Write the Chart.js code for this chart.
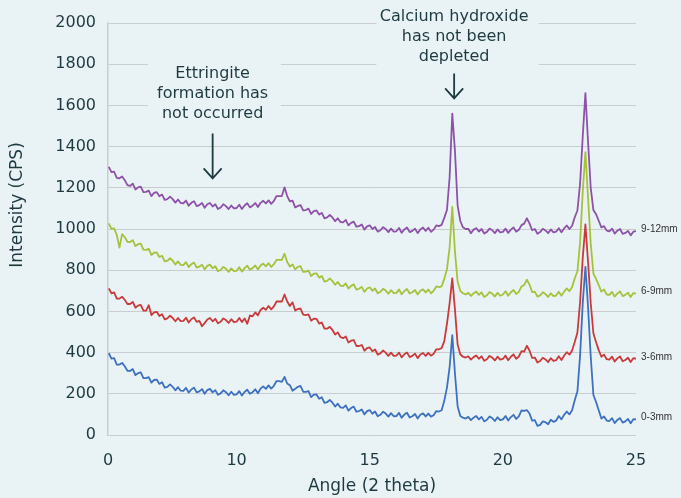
<!DOCTYPE html>
<html>
<head>
<meta charset="utf-8">
<script src="https://cdn.jsdelivr.net/npm/chart.js@4.4.1/dist/chart.umd.min.js"></script>
<style>
  html, body { margin: 0; padding: 0; background: #e9f2f5; }
  #wrap { width: 681px; height: 498px; }
</style>
</head>
<body>
<div id="wrap"><canvas id="xrd" width="681" height="498"></canvas></div>
<script>
// sampling grid of the scans: 5.2 .. 25.0 deg, every 0.1
const angles = [];
for (let i = 52; i <= 250; i++) angles.push(i / 10);

const depthLabels = ['9-12mm', '6-9mm', '3-6mm', '0-3mm'];

// one row per degree (first row 5.2-5.9, last value 25.0)
const depth9to12 = [
  1302, 1276, 1278, 1248, 1246, 1255, 1237, 1213,
  1209, 1220, 1192, 1202, 1206, 1179, 1180, 1186, 1160, 1175,
  1179, 1159, 1167, 1141, 1145, 1157, 1145, 1128, 1143, 1126,
  1125, 1138, 1113, 1127, 1135, 1111, 1116, 1126, 1103, 1120,
  1126, 1109, 1120, 1097, 1104, 1120, 1111, 1097, 1114, 1100,
  1102, 1118, 1097, 1114, 1125, 1105, 1113, 1126, 1107, 1127,
  1137, 1124, 1139, 1122, 1136, 1160, 1160, 1160, 1202, 1160,
  1134, 1138, 1105, 1112, 1116, 1090, 1092, 1099, 1073, 1087,
  1090, 1070, 1078, 1052, 1056, 1068, 1056, 1038, 1052, 1034,
  1032, 1044, 1018, 1030, 1036, 1011, 1014, 1022, 997, 1013,
  1018, 1000, 1010, 987, 994, 1009, 1000, 985, 1002, 987,
  989, 1005, 982, 998, 1007, 985, 991, 1002, 980, 998,
  1007, 991, 1006, 986, 997, 1017, 1014, 1020, 1054, 1092,
  1250, 1560, 1380, 1115, 1040, 1008, 1000, 1001, 979, 997,
  1004, 988, 1000, 978, 986, 1002, 994, 980, 998, 984,
  986, 1002, 981, 997, 1008, 987, 996, 1019, 1026, 1052,
  1027, 994, 1000, 977, 985, 1001, 993, 980, 998, 984,
  987, 1004, 984, 1003, 1017, 1000, 1016, 1057, 1090, 1220,
  1450, 1660, 1420, 1200, 1092, 1072, 1040, 1008, 1014, 992,
  989, 1002, 978, 992, 1000, 976, 981, 991, 969, 987,
  990
];

const depth6to9 = [
  1027, 1001, 1003, 971, 910, 975, 960, 938,
  937, 946, 917, 926, 929, 900, 899, 903, 874, 885,
  886, 864, 870, 843, 846, 858, 846, 828, 843, 826,
  825, 839, 815, 829, 837, 813, 817, 827, 804, 821,
  827, 809, 819, 795, 801, 816, 807, 792, 809, 795,
  797, 814, 793, 810, 822, 802, 810, 823, 803, 823,
  832, 819, 834, 816, 829, 850, 850, 850, 880, 840,
  818, 828, 804, 816, 820, 792, 793, 798, 771, 783,
  785, 764, 772, 745, 748, 760, 747, 729, 743, 725,
  723, 736, 711, 724, 731, 706, 710, 719, 695, 711,
  717, 700, 711, 688, 695, 710, 701, 686, 703, 689,
  690, 706, 683, 699, 709, 687, 693, 704, 682, 700,
  707, 692, 706, 688, 700, 721, 718, 722, 758, 805,
  910, 1107, 890, 745, 700, 688, 682, 690, 675, 688,
  696, 680, 692, 670, 678, 694, 686, 672, 690, 676,
  682, 698, 676, 693, 704, 684, 695, 721, 728, 754,
  730, 694, 696, 672, 678, 693, 684, 670, 688, 674,
  677, 695, 676, 696, 712, 698, 718, 761, 795, 935,
  1180, 1373, 1150, 930, 784, 758, 728, 696, 706, 682,
  680, 695, 672, 687, 697, 674, 680, 691, 670, 689,
  686
];

const depth3to6 = [
  712, 688, 692, 662, 662, 671, 656, 636,
  636, 646, 618, 628, 632, 604, 604, 630, 582, 595,
  598, 578, 586, 561, 566, 579, 568, 552, 568, 553,
  554, 569, 546, 562, 571, 549, 554, 528, 543, 561,
  568, 552, 564, 542, 550, 566, 558, 544, 562, 548,
  550, 568, 548, 566, 540, 580, 576, 595, 581, 607,
  618, 608, 626, 610, 624, 648, 648, 648, 682, 648,
  626, 644, 604, 612, 614, 584, 582, 585, 555, 565,
  564, 541, 546, 516, 516, 525, 510, 488, 498, 476,
  470, 478, 449, 458, 461, 432, 432, 437, 409, 422,
  425, 406, 415, 390, 396, 410, 400, 384, 400, 384,
  385, 400, 377, 392, 401, 378, 384, 395, 373, 391,
  398, 384, 399, 385, 394, 416, 416, 422, 456, 540,
  640, 760, 610, 440, 392, 380, 376, 382, 366, 378,
  386, 370, 382, 360, 368, 384, 376, 362, 380, 366,
  369, 385, 363, 380, 391, 370, 381, 407, 405, 433,
  410, 374, 376, 352, 359, 375, 367, 354, 373, 360,
  363, 382, 364, 385, 402, 390, 410, 451, 497, 645,
  860, 1022, 840, 640, 494, 450, 412, 380, 390, 368,
  366, 380, 357, 372, 381, 358, 364, 375, 354, 373,
  370
];

const depth0to3 = [
  397, 371, 373, 342, 342, 350, 334, 312,
  311, 320, 291, 300, 304, 276, 276, 281, 254, 267,
  269, 248, 256, 230, 234, 246, 234, 217, 232, 215,
  214, 229, 206, 221, 230, 207, 212, 223, 200, 218,
  224, 207, 218, 195, 202, 217, 208, 193, 210, 195,
  197, 213, 192, 209, 220, 200, 208, 222, 203, 225,
  236, 224, 241, 225, 239, 262, 262, 258, 282, 250,
  242, 215, 224, 234, 238, 210, 209, 213, 184, 196,
  197, 176, 183, 156, 159, 170, 157, 138, 152, 134,
  132, 144, 118, 131, 138, 113, 116, 124, 100, 116,
  121, 103, 114, 91, 98, 113, 104, 89, 106, 91,
  92, 107, 84, 99, 108, 85, 91, 102, 80, 98,
  105, 90, 104, 89, 96, 116, 114, 120, 166, 230,
  330, 485, 300, 140, 92, 84, 80, 88, 72, 84,
  92, 76, 88, 66, 74, 90, 82, 68, 86, 72,
  76, 92, 70, 87, 98, 78, 90, 119, 117, 121,
  104, 70, 72, 44, 49, 66, 62, 52, 74, 64,
  70, 92, 76, 98, 114, 100, 120, 169, 212, 385,
  640, 816, 620, 380, 194, 160, 120, 80, 90, 70,
  68, 82, 58, 73, 82, 60, 66, 78, 57, 77,
  76
];

const yTicks = { min: 0, max: 2000, step: 200 };
const xTickValues = [5.17, 10, 15, 20, 25];
const xTickLabels = ['0', '10', '15', '20', '25'];

const seriesColors = ['#8d52a8', '#a6c23b', '#c93a3b', '#3d71bf'];
const inkColor = '#1d3a40';
const gridColor = '#c9cdcd';
const bgColor = '#e9f2f5';

function toPoints(values) {
  return values.map((v, i) => ({ x: angles[i], y: v }));
}

// text callouts, anchored at an angle / intensity
const callouts = [
  { angle: 9.1, top: 1753, lines: ['Ettringite', 'formation has', 'not occurred'],
    arrow: [1464, 1246], cover: [6.66, 11.66, 1870, 1510] },
  { angle: 18.17, top: 2028, lines: ['Calcium hydroxide', 'has not been', 'depleted'],
    arrow: [1755, 1634], cover: [15.25, 21.35, 2090, 1750] }
];

const calloutPlugin = {
  id: 'callouts',
  beforeDatasetsDraw(chart) {
    const { ctx, scales: { x, y } } = chart;
    ctx.save();
    ctx.fillStyle = bgColor;
    callouts.forEach(c => {
      const [a0, a1, v0, v1] = c.cover;
      ctx.fillRect(x.getPixelForValue(a0), y.getPixelForValue(v0),
        x.getPixelForValue(a1) - x.getPixelForValue(a0),
        y.getPixelForValue(v1) - y.getPixelForValue(v0));
    });
    ctx.restore();
  },
  afterDraw(chart) {
    const { ctx, scales: { x, y } } = chart;
    ctx.save();
    ctx.fillStyle = inkColor;
    ctx.strokeStyle = inkColor;
    ctx.font = '16px "DejaVu Sans"';
    ctx.textAlign = 'center';
    ctx.textBaseline = 'middle';
    callouts.forEach(c => {
      const px = x.getPixelForValue(c.angle);
      const py = y.getPixelForValue(c.top);
      c.lines.forEach((t, i) => ctx.fillText(t, px, py + i * 20));
      const y0 = y.getPixelForValue(c.arrow[0]);
      const y1 = y.getPixelForValue(c.arrow[1]);
      ctx.lineWidth = 1.8;
      ctx.beginPath();
      ctx.moveTo(px, y0);
      ctx.lineTo(px, y1);
      ctx.moveTo(px - 9, y1 - 10);
      ctx.lineTo(px, y1);
      ctx.lineTo(px + 9, y1 - 10);
      ctx.stroke();
    });

    // y axis title
    ctx.font = '17px "DejaVu Sans"';
    ctx.translate(18, 205);
    ctx.rotate(-Math.PI / 2);
    ctx.fillText('Intensity (CPS)', 0, 0);
    ctx.restore();
  },
  afterDatasetsDraw(chart) {
    const { ctx } = chart;
    ctx.save();
    ctx.fillStyle = '#333333';
    ctx.font = '10px "Liberation Sans"';
    ctx.textAlign = 'left';
    ctx.textBaseline = 'middle';
    chart.data.datasets.forEach((ds, i) => {
      const pts = chart.getDatasetMeta(i).data;
      const last = pts[pts.length - 1];
      ctx.fillText(ds.label, last.x + 5, last.y - 2);
    });
    ctx.restore();
  }
};

const allSeries = [depth9to12, depth6to9, depth3to6, depth0to3];

new Chart(document.getElementById('xrd'), {
  type: 'line',
  data: {
    datasets: allSeries.map((s, i) => ({
      label: depthLabels[i],
      data: toPoints(s),
      borderColor: seriesColors[i],
      borderWidth: 1.8,
      borderJoinStyle: 'round',
      pointRadius: 0,
      tension: 0,
      fill: false
    }))
  },
  options: {
    responsive: false,
    animation: false,
    layout: { padding: { top: 23, right: 45, left: 0, bottom: 0 } },
    plugins: {
      legend: { display: false },
      tooltip: { enabled: false }
    },
    scales: {
      x: {
        type: 'linear',
        min: xTickValues[0],
        max: 25,
        afterFit: s => { s.height = 63; },
        afterBuildTicks: s => { s.ticks = xTickValues.map(v => ({ value: v })); },
        grid: { display: false },
        border: { display: false },
        ticks: {
          autoSkip: false,
          maxRotation: 0,
          padding: 8,
          color: inkColor,
          font: { family: 'DejaVu Sans', size: 16 },
          callback: (v, i) => xTickLabels[i]
        },
        title: {
          display: true,
          text: 'Angle (2 theta)',
          color: inkColor,
          font: { family: 'DejaVu Sans', size: 17 },
          padding: { top: 0, bottom: 1 }
        }
      },
      y: {
        min: yTicks.min,
        max: yTicks.max,
        afterFit: s => { s.width = 108; },
        grid: { color: gridColor, lineWidth: 1, drawTicks: false },
        border: { display: true, color: gridColor, width: 1.5 },
        ticks: {
          stepSize: yTicks.step,
          padding: 12,
          color: inkColor,
          font: { family: 'DejaVu Sans', size: 16 },
          callback: v => String(v)
        }
      }
    }
  },
  plugins: [calloutPlugin]
});
</script>
</body>
</html>
